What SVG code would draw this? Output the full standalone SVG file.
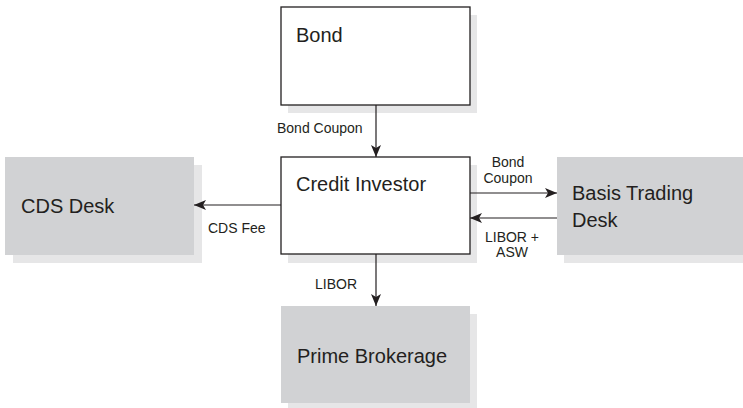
<svg xmlns="http://www.w3.org/2000/svg" width="743" height="408" viewBox="0 0 743 408">
  <style>
    .shadow { fill: #e6e6e7; }
    .white { fill: #ffffff; stroke: #231f20; stroke-width: 1.3; }
    .gray { fill: #d1d2d4; }
    .title { font-family: "Liberation Sans", Arial, sans-serif; font-size: 20px; fill: #231f20; }
    .label { font-family: "Liberation Sans", Arial, sans-serif; font-size: 14px; fill: #231f20; }
    .mid { text-anchor: middle; }
    .wire { stroke: #231f20; stroke-width: 1.2; fill: none; marker-end: url(#head); }
  </style>
  <defs>
    <marker id="head" viewBox="0 0 12 10" refX="12" refY="5" markerWidth="12" markerHeight="10" markerUnits="userSpaceOnUse" orient="auto">
      <path d="M0,0 L12,5 L0,10 L3,5 Z" fill="#231f20"/>
    </marker>
  </defs>

  <g id="bond">
    <rect class="shadow" x="288" y="15" width="189" height="98"/>
    <rect class="white" x="281" y="7" width="189" height="98"/>
    <text class="title" x="296" y="42">Bond</text>
  </g>

  <g id="credit-investor">
    <rect class="shadow" x="288" y="165" width="189" height="98"/>
    <rect class="white" x="281" y="157" width="189" height="97"/>
    <text class="title" x="296" y="191">Credit Investor</text>
  </g>

  <g id="cds-desk">
    <rect class="shadow" x="13" y="165" width="189" height="98"/>
    <rect class="gray" x="5" y="157" width="189" height="98"/>
    <text class="title" x="21" y="213">CDS Desk</text>
  </g>

  <g id="basis-trading-desk">
    <rect class="shadow" x="564" y="165" width="179" height="98"/>
    <rect class="gray" x="557" y="157" width="186" height="98"/>
    <text class="title" x="572" y="200">Basis Trading</text>
    <text class="title" x="572" y="227">Desk</text>
  </g>

  <g id="prime-brokerage">
    <rect class="shadow" x="288" y="314" width="189" height="94"/>
    <rect class="gray" x="281" y="306" width="189" height="97"/>
    <text class="title" x="297" y="363">Prime Brokerage</text>
  </g>

  <g id="connectors">
    <line class="wire" x1="376" y1="105" x2="376" y2="157"/>
    <text class="label" x="277" y="133">Bond Coupon</text>

    <line class="wire" x1="281" y1="205" x2="194" y2="205"/>
    <text class="label" x="208" y="233">CDS Fee</text>

    <line class="wire" x1="470" y1="193" x2="557" y2="193"/>
    <text class="label mid" x="508" y="167">Bond</text>
    <text class="label mid" x="508" y="183">Coupon</text>

    <line class="wire" x1="557" y1="218" x2="470" y2="218"/>
    <text class="label mid" x="512" y="242">LIBOR +</text>
    <text class="label mid" x="512" y="257">ASW</text>

    <line class="wire" x1="376" y1="254" x2="376" y2="306"/>
    <text class="label" x="315" y="289">LIBOR</text>
  </g>
</svg>
